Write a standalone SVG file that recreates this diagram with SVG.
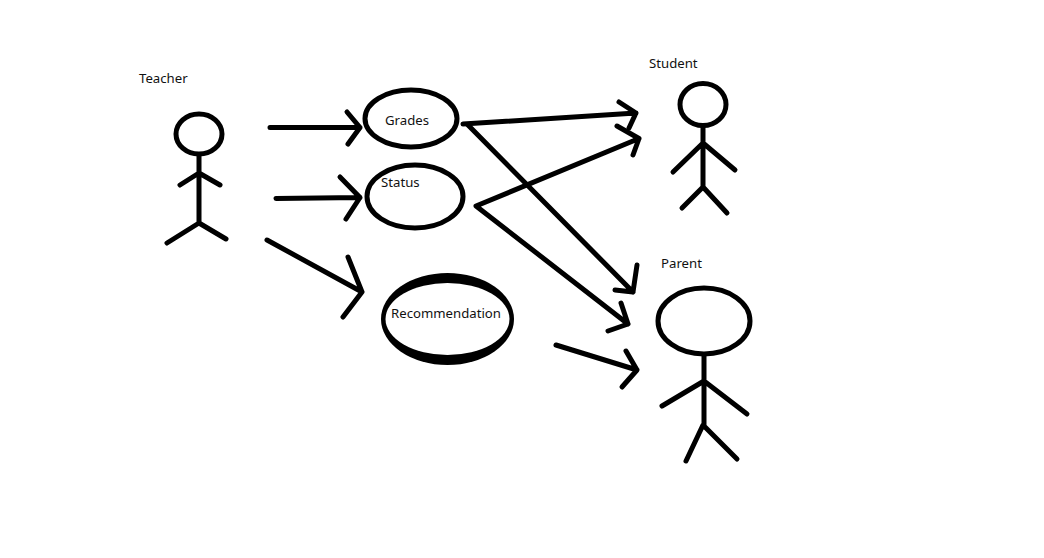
<svg xmlns="http://www.w3.org/2000/svg" width="1044" height="558" viewBox="0 0 1044 558">
<style>
.s{fill:none;stroke:#000;stroke-width:5;stroke-linecap:round;stroke-linejoin:round}
.w{fill:#fff;stroke:#000;stroke-width:5}
text{font-family:"Noto Sans","DejaVu Sans",sans-serif;font-size:13.2px;fill:#111}
</style>
<rect width="1044" height="558" fill="#fff"/>
<g id="connectors" class="s">
<path d="M270 127.500H360M347 112L360 127.500L348 144"/>
<path d="M276 198.500L360 197.500M340 177L360 197.500L346 219"/>
<path d="M267 240L362 292M348 257L362 292L343 317"/>
<path d="M463 124L636 113M619 102L636 113L629 128"/>
<path d="M468 125L633 292M637 265L633 292L615 290"/>
<path d="M639 138.500L476 206L628 324M617 126L639 138.500L633 155M621 303L628 324L608 331"/>
<path d="M556 345L637 370M626 351L637 370L622 387"/>
</g>
<g id="teacher">
<ellipse class="w" cx="199" cy="134" rx="23" ry="20"/>
<path class="s" d="M199 156V223M180 185L199 173L220 185M167 243L199 223L226 239"/>
<text x="139" y="83">Teacher</text>
</g>
<g id="grades">
<ellipse class="w" cx="411" cy="118.500" rx="46" ry="28.500"/>
<text x="385" y="125">Grades</text>
</g>
<g id="status">
<ellipse class="w" cx="415" cy="196.500" rx="48" ry="31.500"/>
<text x="381" y="187">Status</text>
</g>
<g id="recommendation">
<ellipse cx="447.500" cy="319" rx="66.500" ry="46" fill="#000"/>
<ellipse cx="447.500" cy="319" rx="62" ry="36" fill="#fff"/>
<text x="391" y="318">Recommendation</text>
</g>
<g id="student">
<ellipse class="w" cx="703" cy="104.500" rx="23" ry="21"/>
<path class="s" d="M703 127V187M673 172L703 143L735 170M682 208L703 187L727 213"/>
<text x="649" y="68">Student</text>
</g>
<g id="parent">
<ellipse class="w" cx="704" cy="321" rx="46" ry="33"/>
<path class="s" d="M704 356V427M662 406L704 381L747 414M686 461L703 425L737 459"/>
<text x="661" y="268">Parent</text>
</g>
</svg>
